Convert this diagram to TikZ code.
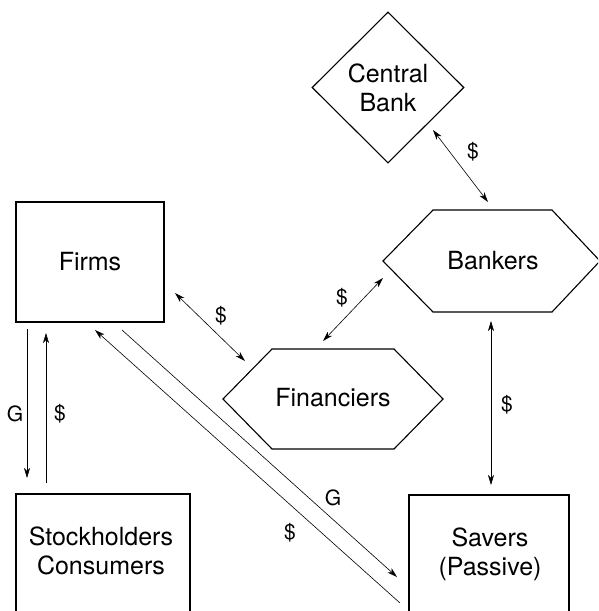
\documentclass[tikz,border=0pt]{standalone}
\usepackage{fontspec}
\setmainfont{TeX Gyre Heros}
\usetikzlibrary{shapes.geometric,arrows.meta}
\begin{document}
\begin{tikzpicture}[x=1pt,y=-1pt,
  shapeline/.style={draw=black,line width=1.1pt,line join=miter},
  boxnode/.style={shapeline,rectangle,inner sep=0pt},
  nodetext/.style={font=\fontsize{25}{29}\selectfont,align=center,inner sep=0pt},
  tip/.tip={Stealth[length=10pt,width=6pt,inset=3pt]},
  flow/.style={line width=0.6pt,-tip},
  flows/.style={line width=0.6pt,tip-tip},
  lab/.style={font=\fontsize{21}{24}\selectfont,inner sep=0pt}]
\clip (0,0) rectangle (598,611);

% Central Bank
\node[diamond,shapeline,nodetext,minimum width=152pt,minimum height=151pt] (cb) at (388,87.5) {Central\\Bank};

% Bankers hexagon
\draw[shapeline] (383,261) -- (433,210) -- (552,210) -- (600,261) -- (552,312) -- (433,312) -- cycle;
\node[nodetext] (bankers) at (493,261) {Bankers};

% Financiers hexagon
\draw[shapeline] (223,399) -- (272,349) -- (394,349) -- (443,399) -- (394,449) -- (272,449) -- cycle;
\node[nodetext] (fin) at (333,398) {Financiers};

% Firms
\node[boxnode,nodetext,draw,minimum width=148pt,minimum height=120pt] (firms) at (90,262) {Firms};

% Stockholders / Consumers
\node[boxnode,minimum width=174pt,minimum height=166pt] (stock) at (103,577) {};
\node[nodetext] (stocktxt) at (101,551) {Stockholders\\Consumers};

% Savers
\node[boxnode,minimum width=160pt,minimum height=165pt] (savers) at (489,577.5) {};
\node[nodetext] (saverstxt) at (490,554) {Savers\\(Passive)};

% connector end points
\coordinate (cbA) at (433,130);
\coordinate (bkA) at (488,202);
\coordinate (fmA) at (175,293);
\coordinate (fiA) at (245,361);
\coordinate (bkB) at (383,278);
\coordinate (fiB) at (323,341);
\coordinate (bkC) at (491,321);
\coordinate (svC) at (491,485);
\coordinate (fmG) at (27,329);
\coordinate (stG) at (27,478);
\coordinate (stD) at (46,483);
\coordinate (fmD) at (46,333);
\coordinate (fmE) at (122,330);
\coordinate (svE) at (397,577);
\coordinate (svF) at (400,603);
\coordinate (fmF) at (95,330);

\draw[flows] (cbA) -- (bkA);
\draw[flows] (fmA) -- (fiA);
\draw[flows] (bkB) -- (fiB);
\draw[flows] (bkC) -- (svC);
\draw[flow] (fmG) -- (stG);
\draw[flow] (stD) -- (fmD);
\draw[flow] (fmE) -- (svE);
\draw[flow] (svF) -- (fmF);

% labels
\node[lab] (l1) at (473,152) {\$};
\node[lab] (l2) at (221,316) {\$};
\node[lab] (l3) at (342,298) {\$};
\node[lab] (l4) at (507,405) {\$};
\node[lab] (l5) at (15,414) {G};
\node[lab] (l6) at (60,414) {\$};
\node[lab] (l7) at (333,498) {G};
\node[lab] (l8) at (290,533) {\$};
\end{tikzpicture}
\end{document}
